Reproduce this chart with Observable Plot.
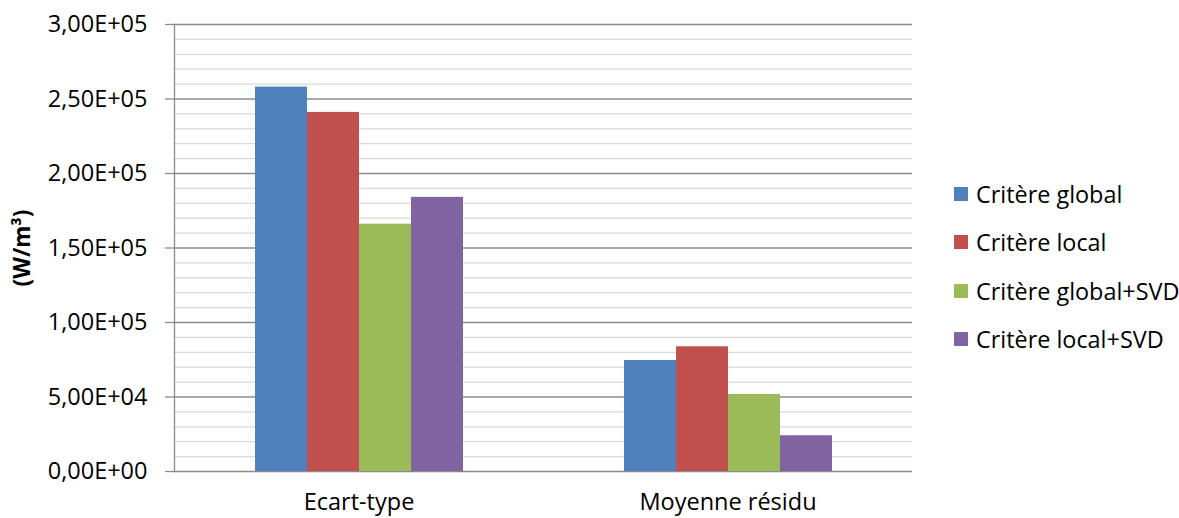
<!DOCTYPE html>
<html><head><meta charset="utf-8">
<script src="https://cdn.jsdelivr.net/npm/d3@7"></script>
<script src="https://cdn.jsdelivr.net/npm/@observablehq/plot@0.6"></script>
<style>
body{margin:0;background:#fff;font-family:"Open Sans",sans-serif;}
#wrap{position:relative;width:1179px;height:518px;}
#legend{position:absolute;left:954px;top:0;}
.item{position:absolute;left:0;white-space:nowrap;display:flex;align-items:center;font-size:23.4px;line-height:30px;height:30px;color:#000;}
.sw{width:14px;height:14px;margin-right:8px;flex:none;}
[aria-label="y-axis label"] text{font-weight:bold;}
</style></head><body><div id="wrap"><div id="legend"></div></div>
<script>
const categories = ["Ecart-type", "Moyenne résidu"];
const series = ["Critère global", "Critère local", "Critère global+SVD", "Critère local+SVD"];
const colors = ["#4F81BD", "#C0504D", "#9BBB59", "#8064A2"];
const ecartType = [258000, 241000, 166000, 184000];
const moyenneResidu = [74500, 83700, 51700, 24000];
const yMajorTicks = d3.range(0, 300001, 50000);
const yMinorTicks = d3.range(0, 300001, 10000).filter(v => v % 50000 !== 0);
const yLabel = "(W/m³)";

const data = [];
series.forEach((s, i) => {
  data.push({category: categories[0], series: s, value: ecartType[i]});
  data.push({category: categories[1], series: s, value: moyenneResidu[i]});
});

function sciFmt(v) {
  const [m, e] = v.toExponential(2).split("e");
  const sign = e[0] === "-" ? "-" : "+";
  const ex = e.replace(/^[+-]/, "").padStart(2, "0");
  return m.replace(".", ",") + "E" + sign + ex;
}

const chart = Plot.plot({
  width: 1179,
  height: 518,
  marginLeft: 173,
  marginRight: 267,
  marginTop: 24,
  marginBottom: 47,
  style: {fontFamily: "'Open Sans', sans-serif", fontSize: "23.5px", color: "#000", background: "#fff"},
  fx: {domain: categories, padding: 0, label: null},
  x: {domain: series, paddingInner: 0, paddingOuter: 1.486, axis: null},
  y: {domain: [0, 300000]},
  color: {domain: series, range: colors},
  marks: [
    Plot.ruleY(yMinorTicks, {stroke: "#d9d9d9", strokeWidth: 1.3}),
    Plot.ruleY(yMajorTicks, {stroke: "#8c8c8c", strokeWidth: 1.3}),
    Plot.barY(data, {fx: "category", x: "series", y: "value", fill: "series", inset: 0}),
    Plot.frame({anchor: "left", facetAnchor: "left", stroke: "#8c8c8c", strokeWidth: 1.3}),
    Plot.axisY(yMajorTicks, {
      tickFormat: sciFmt, tickSize: 9, tickPadding: 18, stroke: "#8c8c8c", strokeWidth: 1.3,
      label: yLabel, labelAnchor: "center", labelArrow: "none", labelOffset: 160, fontSize: 23.5
    }),
    Plot.axisFx({anchor: "bottom", tickSize: 0, tickPadding: 22, label: null, fontSize: 23.5})
  ]
});
document.getElementById("wrap").prepend(chart);
const yl = chart.querySelector('[aria-label="y-axis label"]');
if (yl) yl.setAttribute("font-size", "22.5");

const legend = document.getElementById("legend");
series.forEach((s, i) => {
  const it = document.createElement("div");
  it.className = "item";
  it.style.top = (179 + i * 48.3) + "px";
  const sw = document.createElement("span");
  sw.className = "sw";
  sw.style.background = colors[i];
  it.appendChild(sw);
  it.appendChild(document.createTextNode(s));
  legend.appendChild(it);
});
</script>
</body></html>
